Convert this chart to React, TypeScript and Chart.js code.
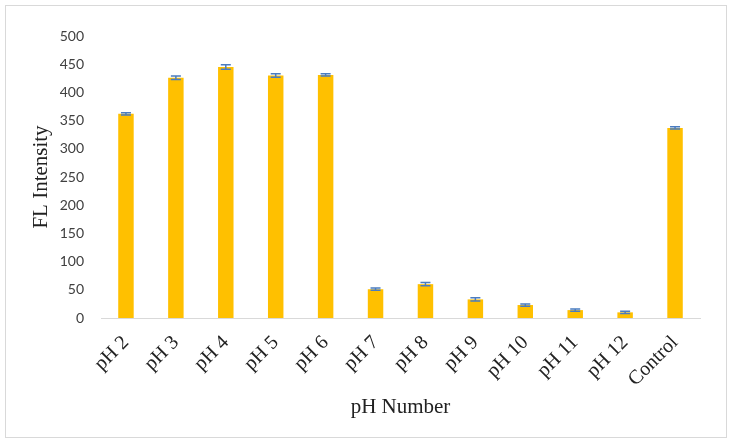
import React, { useEffect, useRef } from "react";
import { Chart, registerables } from "chart.js";

Chart.register(...registerables);

const categories = ["pH 2", "pH 3", "pH 4", "pH 5", "pH 6", "pH 7", "pH 8", "pH 9", "pH 10", "pH 11", "pH 12", "Control"];
const intensity = [362, 426, 445, 430, 431, 51, 60, 33, 23, 14, 10, 337];
const errors = [2, 3, 4, 3, 2, 2, 3, 3, 2, 2, 2, 2];
const yTicks = [0, 50, 100, 150, 200, 250, 300, 350, 400, 450, 500];

const errorBarPlugin = {
  id: "errorBars",
  afterDatasetsDraw(chart: any) {
    const meta = chart.getDatasetMeta(0);
    const y = chart.scales.y;
    const ctx = chart.ctx;
    ctx.save();
    ctx.strokeStyle = "#4A7CC0";
    ctx.lineWidth = 1.5;
    meta.data.forEach((bar: any, i: number) => {
      const v = intensity[i];
      const e = errors[i];
      const yTop = y.getPixelForValue(v + e);
      const yBot = y.getPixelForValue(v - e);
      const x = bar.x;
      const cap = 5;
      ctx.beginPath();
      ctx.moveTo(x, yTop);
      ctx.lineTo(x, yBot);
      ctx.moveTo(x - cap, yTop);
      ctx.lineTo(x + cap, yTop);
      ctx.moveTo(x - cap, yBot);
      ctx.lineTo(x + cap, yBot);
      ctx.stroke();
    });
    ctx.restore();
  },
};

export default function App() {
  const ref = useRef<HTMLCanvasElement>(null);
  useEffect(() => {
    document.body.style.margin = "0";
    const chart = new Chart(ref.current!, {
      type: "bar",
      data: {
        labels: categories,
        datasets: [
          {
            data: intensity,
            backgroundColor: "#FFC000",
            categoryPercentage: 1,
            barPercentage: 0.31,
          },
        ],
      },
      options: {
        animation: false,
        responsive: false,
        layout: { padding: { left: 29, right: 30, top: 36, bottom: 22 } },
        plugins: { legend: { display: false }, tooltip: { enabled: false } },
        scales: {
          x: {
            grid: { display: false, drawTicks: false },
            border: { display: true, color: "#D9D9D9", width: 1 },
            ticks: {
              minRotation: 45,
              maxRotation: 45,
              padding: 13,
              color: "#222",
              font: { family: "Liberation Serif", size: 20 },
            },
            title: {
              display: true,
              text: "pH Number",
              color: "#222",
              font: { family: "Liberation Serif", size: 21 },
              padding: 0,
            },
            afterFit(scale: any) {
              scale.height = 102;
            },
          },
          y: {
            min: 0,
            max: 500,
            afterBuildTicks(scale: any) {
              scale.ticks = yTicks.map((v) => ({ value: v }));
            },
            grid: { display: false, drawTicks: false },
            border: { display: false },
            ticks: {
              padding: 17,
              color: "#404040",
              font: { family: "Lato", size: 14 },
            },
            title: {
              display: true,
              text: "FL Intensity",
              color: "#222",
              font: { family: "Liberation Serif", size: 21 },
              padding: 0,
            },
            afterFit(scale: any) {
              scale.width = 72;
            },
          },
        },
      },
      plugins: [errorBarPlugin],
    });
    return () => chart.destroy();
  }, []);
  return (
    <div style={{ position: "relative", width: 730, height: 442, background: "#fff" }}>
      <div
        style={{
          position: "absolute",
          left: 5,
          top: 5,
          width: 720,
          height: 431,
          border: "1px solid #D9D9D9",
        }}
      />
      <canvas ref={ref} width={730} height={442} style={{ position: "absolute", left: 0, top: 0 }} />
    </div>
  );
}
